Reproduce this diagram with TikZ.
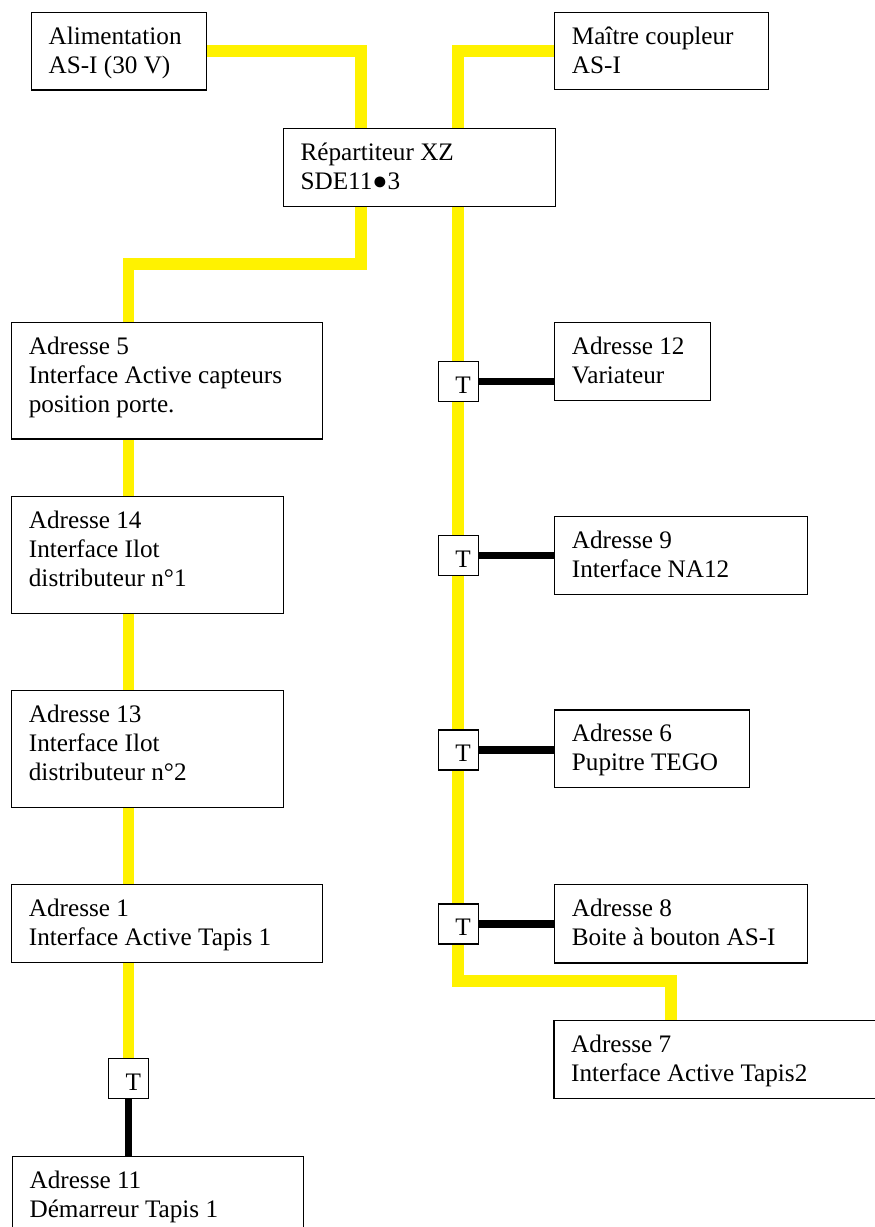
\documentclass[tikz,border=0pt]{standalone}
\usepackage{fontspec}
\setmainfont{Liberation Serif}
\usetikzlibrary{backgrounds}

% framed box with its text set from the top-left corner
\newcommand\netbox[6]{%
  \node[frame, minimum width=#4*0.5pt, minimum height=#5*0.5pt] (#1) at (#2,#3) {};
  \node[boxtext] at ([shift={(17.5,11.5)}]#1.north west) {\strut #6};
}

\begin{document}
\begin{tikzpicture}[x=0.5pt,y=-0.5pt,
  frame/.style={draw=black, line width=0.6pt, fill=white, inner sep=0pt, anchor=north west},
  boxtext/.style={anchor=north west, inner sep=0pt, align=left,
                  font=\fontsize{12.6pt}{14.6pt}\selectfont},
  bus/.style={draw=yellow, line width=5.75pt},
  drop/.style={draw=black, line width=3.75pt}]
\useasboundingbox (0,0) rectangle (874,1227);

% power supply, master and distributor
\netbox{alim}{30.7}{11.7}{175}{77.6}{Alimentation\\AS-I (30 V)}
\netbox{maitre}{554}{12}{214}{77}{Maître coupleur\\AS-I}
\netbox{rep}{282.7}{127.7}{272}{78.3}{Répartiteur XZ\\SDE11●3}

% left branch
\netbox{ad5}{11}{321.7}{311}{116.6}{Adresse 5\\Interface Active capteurs\\position porte.}
\netbox{ad14}{11}{496}{272}{117}{Adresse 14\\Interface Ilot\\distributeur n°1}
\netbox{ad13}{11}{690}{272}{116.7}{Adresse 13\\Interface Ilot\\distributeur n°2}
\netbox{ad1}{11}{884}{311}{78}{Adresse 1\\Interface Active Tapis 1}
\netbox{tl}{107.7}{1058}{40}{40}{T}
\netbox{ad11}{11.7}{1155.7}{291}{78}{Adresse 11\\Démarreur Tapis 1}

% right branch
\netbox{t1}{437.5}{360.7}{40}{40}{T}
\netbox{ad12}{554}{321.7}{156}{78.3}{Adresse 12\\Variateur}
\netbox{t2}{437.5}{535}{40}{40}{T}
\netbox{ad9}{554}{515.7}{252.7}{78.3}{Adresse 9\\Interface NA12}
\netbox{t3}{437.5}{729.3}{40}{40}{T}
\netbox{ad6}{554}{709.3}{194.7}{77.4}{Adresse 6\\Pupitre TEGO}
\netbox{t4}{437.5}{903.3}{40}{40}{T}
\netbox{ad8}{554}{884}{252.7}{78.3}{Adresse 8\\Boite à bouton AS-I}
\netbox{ad7}{553.3}{1020}{400}{77.7}{Adresse 7\\Interface Active Tapis2}

\coordinate (jl) at (361,264);
\coordinate (b7) at (671,981);

\begin{scope}[on background layer]
  \fill[white] (0,0) rectangle (874,1227);
  \draw[bus] (alim.east) -| (jl |- rep.north);
  \draw[bus] (maitre.west) -| (t1.center |- rep.north);
  \draw[bus] (jl |- rep.south) -- (jl) -| (ad5.north -| tl.center);
  \draw[bus] (ad5.south -| tl.center) -- (ad14.north -| tl.center);
  \draw[bus] (ad14.south -| tl.center) -- (ad13.north -| tl.center);
  \draw[bus] (ad13.south -| tl.center) -- (ad1.north -| tl.center);
  \draw[bus] (ad1.south -| tl.center) -- (tl.north);
  \draw[drop] (tl.south) -- (ad11.north -| tl.center);
  \draw[bus] (t1.center |- rep.south) -- (t1.center |- b7) -- (b7) -- (ad7.north -| b7);
  \draw[drop] (t1.east) -- (t1.east -| ad12.west);
  \draw[drop] (t2.east) -- (t2.east -| ad9.west);
  \draw[drop] (t3.east) -- (t3.east -| ad6.west);
  \draw[drop] (t4.east) -- (t4.east -| ad8.west);
\end{scope}
\end{tikzpicture}
\end{document}
